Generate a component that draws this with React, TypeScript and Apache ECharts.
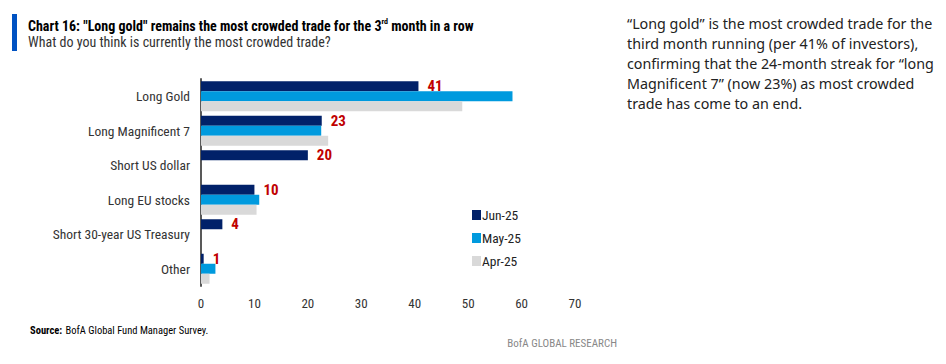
import React, { useEffect, useRef } from "react";
import * as echarts from "echarts";

const categories = [
  "Long Gold",
  "Long Magnificent 7",
  "Short US dollar",
  "Long EU stocks",
  "Short 30-year US Treasury",
  "Other",
];
const jun25 = [40.7, 22.6, 20, 10, 4, 0.5];
const junLabels = [41, 23, 20, 10, 4, 1];
const may25 = [58.3, 22.5, null, 10.9, null, 2.7];
const apr25 = [48.9, 23.8, null, 10.4, null, 1.6];
const xTicks = [0, 10, 20, 30, 40, 50, 60, 70];

const narrow = "'Liberation Sans Narrow', 'Roboto Condensed', 'Arial Narrow', Roboto, sans-serif";

const sideLines = [
  "\u201CLong gold\u201D is the most crowded trade for the",
  "third month running (per 41% of investors),",
  "confirming that the 24-month streak for \u201Clong",
  "Magnificent 7\u201D (now 23%) as most crowded",
  "trade has come to an end.",
];

export default function App() {
  const ref = useRef<HTMLDivElement>(null);
  useEffect(() => {
    if (!ref.current) return;
    const chart = echarts.init(ref.current, null, { renderer: "svg" });
    const option: any = {
      animation: false,
      backgroundColor: "#ffffff",
      grid: { left: 201, top: 79, width: 374, height: 207, containLabel: false },
      legend: {
        orient: "vertical",
        left: 467,
        top: 203,
        itemWidth: 9,
        itemHeight: 10,
        itemGap: 9,
        icon: "rect",
        textStyle: { fontFamily: narrow, fontSize: 13.5, color: "#222", padding: [0, 0, 0, -4] },
        data: ["Jun-25", "May-25", "Apr-25"],
      },
      xAxis: {
        type: "value",
        min: xTicks[0],
        max: xTicks[xTicks.length - 1],
        interval: 10,
        axisLine: { show: false },
        axisTick: { show: false },
        splitLine: { show: false },
        axisLabel: { fontFamily: narrow, fontSize: 13, color: "#333", margin: 11 },
      },
      yAxis: {
        type: "category",
        data: categories,
        inverse: true,
        axisLine: { show: true, lineStyle: { color: "#595959", width: 2 } },
        axisTick: { show: false },
        axisLabel: { fontFamily: narrow, fontSize: 13.5, color: "#333", margin: 11 },
      },
      series: [
        {
          name: "Jun-25",
          type: "bar",
          data: jun25,
          barWidth: 10,
          barGap: "0%",
          itemStyle: { color: "#012169" },
          label: {
            show: true,
            position: "right",
            distance: 9,
            fontFamily: narrow,
            fontWeight: "bold",
            fontSize: 15,
            color: "#C00000",
            formatter: (p: any) => String(junLabels[p.dataIndex]),
          },
        },
        {
          name: "May-25",
          type: "bar",
          data: may25,
          barWidth: 10,
          barGap: "0%",
          itemStyle: { color: "#009ADE" },
        },
        {
          name: "Apr-25",
          type: "bar",
          data: apr25,
          barWidth: 10,
          barGap: "0%",
          itemStyle: { color: "#D9D9D9" },
        },
      ],
      graphic: [
        { type: "rect", shape: { x: 12, y: 14, width: 5, height: 37 }, style: { fill: "#0052C2" } },
        {
          type: "text",
          x: 28,
          y: 17,
          style: {
            text: "{b|Chart 16: \"Long gold\" remains the most crowded trade for the 3}{s|rd}{b| month in a row}",
            rich: {
              b: { fontFamily: narrow, fontSize: 14, fontWeight: "bold", color: "#111", lineHeight: 16, verticalAlign: "bottom" },
              s: { fontFamily: narrow, fontSize: 8, fontWeight: "bold", color: "#111", lineHeight: 16, verticalAlign: "top", padding: [0, 0, 8, 0] },
            },
          },
        },
        {
          type: "text",
          x: 28,
          y: 35,
          style: { text: "What do you think is currently the most crowded trade?", fontFamily: narrow, fontSize: 14, fill: "#333" },
        },
        {
          type: "text",
          x: 30,
          y: 324,
          style: {
            text: "{b|Source:} {n|BofA Global Fund Manager Survey.}",
            rich: {
              b: { fontFamily: narrow, fontSize: 10.5, fontWeight: "bold", color: "#111" },
              n: { fontFamily: narrow, fontSize: 10.5, color: "#333" },
            },
          },
        },
        {
          type: "text",
          x: 617,
          y: 338,
          style: { text: "BofA GLOBAL RESEARCH", fontFamily: narrow, fontSize: 11, fill: "#888", align: "right" },
        },
        ...sideLines.map((t, i) => ({
          type: "text",
          x: 627,
          y: 16 + i * 20.2,
          style: { text: t, fontFamily: "'Noto Sans', 'Open Sans', sans-serif", fontSize: 14.3, fill: "#222" },
        })),
      ],
    };
    chart.setOption(option);
    return () => chart.dispose();
  }, []);
  return <div ref={ref} style={{ width: 946, height: 364, position: "absolute", left: 0, top: 0 }} />;
}
